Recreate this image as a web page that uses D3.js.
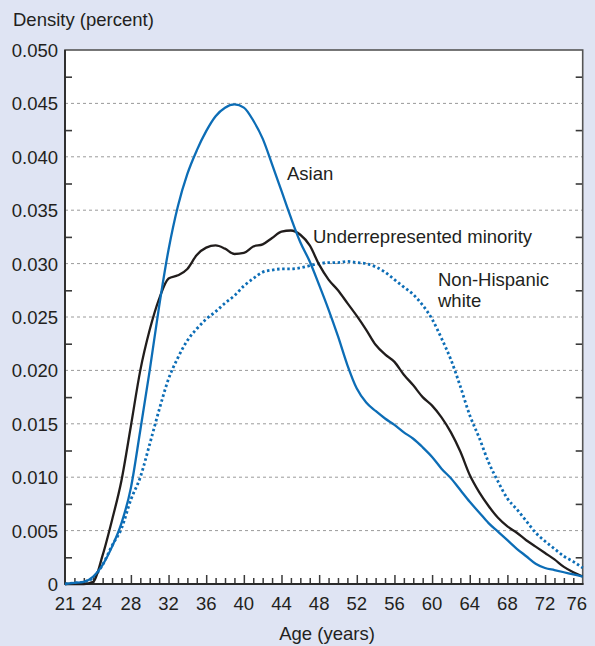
<!DOCTYPE html>
<html><head><meta charset="utf-8">
<script src="https://cdn.jsdelivr.net/npm/d3@7"></script>
<style>
html,body{margin:0;padding:0;background:#dfe4f3;}
svg{display:block;font-family:"Liberation Sans",Arial,Helvetica,sans-serif;}
</style></head>
<body><svg id="c" width="595" height="646"></svg>
<script>
const ages = d3.range(21, 77);
const asian = [0.0000,0.0001,0.0002,0.0007,0.0018,0.0035,0.0057,0.0090,0.0144,0.0200,
  0.0260,0.0313,0.0354,0.0384,0.0406,0.0424,0.0438,0.0446,0.0449,0.0446,
  0.0434,0.0417,0.0393,0.0368,0.0343,0.0320,0.0302,0.0280,0.0257,0.0232,
  0.0205,0.0183,0.0170,0.0162,0.0155,0.0149,0.0142,0.0136,0.0128,0.0119,
  0.0108,0.0099,0.0088,0.0077,0.0067,0.0057,0.0049,0.0041,0.0033,0.0026,
  0.0019,0.0015,0.0013,0.0011,0.0009,0.0007];
const urm = [0.0000,0.0000,0.0000,0.0002,0.0027,0.0060,0.0097,0.0148,0.0200,0.0238,
  0.0267,0.0286,0.0289,0.0295,0.0308,0.0315,0.0317,0.0314,0.0309,0.0310,
  0.0316,0.0318,0.0324,0.0330,0.0331,0.0327,0.0317,0.0299,0.0285,0.0275,
  0.0263,0.0251,0.0238,0.0224,0.0215,0.0208,0.0196,0.0186,0.0175,0.0167,
  0.0156,0.0142,0.0124,0.0102,0.0086,0.0073,0.0062,0.0054,0.0048,0.0041,
  0.0035,0.0029,0.0023,0.0016,0.0011,0.0007];
const nhw = [0.0000,0.0001,0.0002,0.0006,0.0018,0.0036,0.0052,0.0079,0.0100,0.0131,
  0.0163,0.0192,0.0212,0.0228,0.0239,0.0248,0.0255,0.0263,0.0270,0.0279,
  0.0286,0.0292,0.0294,0.0295,0.0295,0.0296,0.0298,0.0300,0.0301,0.0301,
  0.0302,0.0301,0.0300,0.0297,0.0292,0.0285,0.0278,0.0271,0.0261,0.0248,
  0.0230,0.0210,0.0185,0.0158,0.0137,0.0114,0.0096,0.0080,0.0070,0.0059,
  0.0048,0.0040,0.0033,0.0026,0.0021,0.0015];
const yTicks = [0,0.005,0.010,0.015,0.020,0.025,0.030,0.035,0.040,0.045,0.050];
const yTickLabels = ["0","0.005","0.010","0.015","0.020","0.025","0.030","0.035","0.040","0.045","0.050"];
const xTicks = [21,24,28,32,36,40,44,48,52,56,60,64,68,72,76];
const seriesNames = ["Asian","Underrepresented minority","Non-Hispanic white"];

const svg = d3.select("#c");
const L = 65, R = 582.7, T = 50, B = 584;
const FS = 18.5;
const x = d3.scaleLinear().domain([21,76]).range([L,R]);
const y = d3.scaleLinear().domain([0,0.05]).range([B,T]);
const blue = "#0c6db6", black = "#211d1c", axisCol = "#3a3a3a";

svg.append("rect").attr("x",L).attr("y",T).attr("width",R-L).attr("height",B-T).attr("fill","#fff");

// gridlines
svg.append("g").selectAll("line").data(yTicks.filter(d=>d>0 && d<0.05)).join("line")
  .attr("x1",L).attr("x2",R).attr("y1",d=>y(d)).attr("y2",d=>y(d))
  .attr("stroke","#9a9a9a").attr("stroke-width",1).attr("stroke-dasharray","3,3");

// minor y ticks inside, left and right
const yMinor = d3.range(0.0025,0.05,0.005);
const gL = svg.append("g").attr("transform",`translate(${L},0)`)
  .call(d3.axisRight(y).tickValues(yMinor).tickSize(7).tickFormat(""));
const gR = svg.append("g").attr("transform",`translate(${R},0)`)
  .call(d3.axisLeft(y).tickValues(yMinor).tickSize(7).tickFormat(""));
[gL,gR].forEach(g=>{g.select(".domain").remove(); g.selectAll("line").attr("stroke",axisCol).attr("stroke-width",1.6);});

// x ticks inside
const xMinor = d3.range(22,76).filter(d=>xTicks.indexOf(d)<0);
const gx1 = svg.append("g").attr("transform",`translate(0,${B})`)
  .call(d3.axisTop(x).tickValues(xMinor).tickSize(6).tickFormat(""));
const gx2 = svg.append("g").attr("transform",`translate(0,${B})`)
  .call(d3.axisTop(x).tickValues(xTicks.filter(d=>d>21&&d<76)).tickSize(9).tickFormat(""));
[gx1,gx2].forEach(g=>{g.select(".domain").remove(); g.selectAll("line").attr("stroke",axisCol).attr("stroke-width",1.5);});

// frame
svg.append("rect").attr("x",L).attr("y",T).attr("width",R-L).attr("height",B-T)
  .attr("fill","none").attr("stroke","#555").attr("stroke-width",1.6);
svg.append("line").attr("x1",L).attr("x2",L).attr("y1",T).attr("y2",B+0.8).attr("stroke","#2a2a2a").attr("stroke-width",1.8);
svg.append("line").attr("x1",L).attr("x2",R+0.8).attr("y1",B).attr("y2",B).attr("stroke","#2a2a2a").attr("stroke-width",1.8);

// tick labels
svg.append("g").selectAll("text").data(yTicks).join("text")
  .attr("x",58).attr("y",d=>y(d)+7).attr("text-anchor","end")
  .attr("font-size",FS).attr("fill","#231f20").text((d,i)=>yTickLabels[i]);
svg.append("g").selectAll("text").data(xTicks).join("text")
  .attr("x",d=>x(d) + (d===76?-6:(d===24?-1.5:0))).attr("y",B+26).attr("text-anchor","middle")
  .attr("font-size",FS).attr("fill","#231f20").text(d=>d);

svg.append("text").attr("x",13).attr("y",26).attr("font-size",FS).attr("fill","#231f20").text("Density (percent)");
svg.append("text").attr("x",327).attr("y",640).attr("text-anchor","middle").attr("font-size",FS).attr("fill","#231f20").text("Age (years)");

// lines
const line = d3.line().x((d,i)=>x(ages[i])).y(d=>y(d)).curve(d3.curveMonotoneX);
svg.append("path").datum(nhw).attr("d",line).attr("fill","none").attr("stroke",blue)
  .attr("stroke-width",2.8).attr("stroke-dasharray","2.5,2.6");
svg.append("path").datum(urm).attr("d",line).attr("fill","none").attr("stroke",black).attr("stroke-width",2.3);
svg.append("path").datum(asian).attr("d",line).attr("fill","none").attr("stroke",blue).attr("stroke-width",2.3);

// series labels
const lab = svg.append("g").attr("font-size",FS).attr("fill","#231f20");
lab.append("text").attr("x",287).attr("y",180).text(seriesNames[0]);
lab.append("text").attr("x",313).attr("y",243).text(seriesNames[1]);
lab.append("text").attr("x",438).attr("y",286).text("Non-Hispanic");
lab.append("text").attr("x",438).attr("y",307).text("white");
</script></body></html>
